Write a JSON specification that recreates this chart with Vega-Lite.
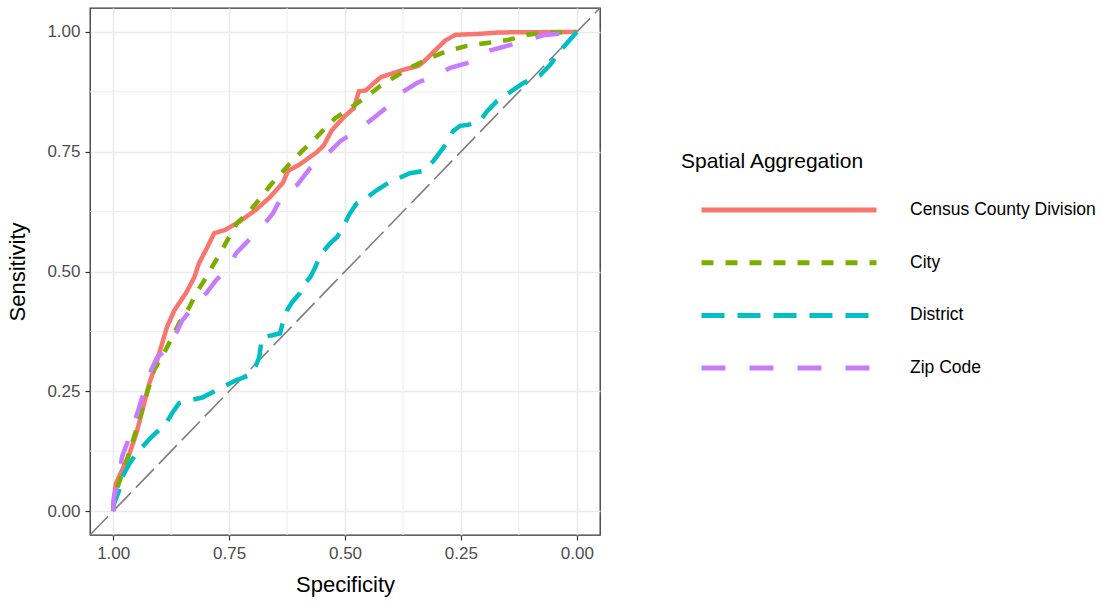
{
  "$schema": "https://vega.github.io/schema/vega-lite/v6.json",
  "width": 510,
  "height": 527,
  "autosize": {"type": "none"},
  "padding": {"left": 90, "top": 8, "right": 502, "bottom": 67},
  "background": "white",
  "config": {
    "font": "Liberation Sans",
    "view": {"stroke": "#333333", "strokeWidth": 1.3},
    "axis": {
      "domain": false,
      "gridColor": "#EBEBEB",
      "gridWidth": 1.6,
      "tickColor": "#333333",
      "tickWidth": 1.2,
      "tickSize": 5,
      "labelFont": "Liberation Sans",
      "labelFontSize": 17,
      "labelColor": "#4D4D4D",
      "labelPadding": 5,
      "titleFont": "Liberation Sans",
      "titleFontSize": 22,
      "titleFontWeight": "normal",
      "titleColor": "#000000"
    }
  },
  "datasets": {
    "roc": [
      {"series": "Census County Division", "spec": 1.0, "sens": 0.0},
      {"series": "Census County Division", "spec": 0.998, "sens": 0.03},
      {"series": "Census County Division", "spec": 0.994, "sens": 0.058},
      {"series": "Census County Division", "spec": 0.981, "sens": 0.085},
      {"series": "Census County Division", "spec": 0.965, "sens": 0.12},
      {"series": "Census County Division", "spec": 0.95, "sens": 0.162},
      {"series": "Census County Division", "spec": 0.937, "sens": 0.21},
      {"series": "Census County Division", "spec": 0.922, "sens": 0.267},
      {"series": "Census County Division", "spec": 0.907, "sens": 0.309},
      {"series": "Census County Division", "spec": 0.884, "sens": 0.384},
      {"series": "Census County Division", "spec": 0.868, "sens": 0.419},
      {"series": "Census County Division", "spec": 0.843, "sens": 0.455},
      {"series": "Census County Division", "spec": 0.825, "sens": 0.488},
      {"series": "Census County Division", "spec": 0.815, "sens": 0.517},
      {"series": "Census County Division", "spec": 0.8, "sens": 0.545},
      {"series": "Census County Division", "spec": 0.782, "sens": 0.58},
      {"series": "Census County Division", "spec": 0.758, "sens": 0.587},
      {"series": "Census County Division", "spec": 0.728, "sens": 0.604},
      {"series": "Census County Division", "spec": 0.692, "sens": 0.629},
      {"series": "Census County Division", "spec": 0.663, "sens": 0.654},
      {"series": "Census County Division", "spec": 0.634, "sens": 0.685},
      {"series": "Census County Division", "spec": 0.623, "sens": 0.71},
      {"series": "Census County Division", "spec": 0.597, "sens": 0.724},
      {"series": "Census County Division", "spec": 0.561, "sens": 0.749},
      {"series": "Census County Division", "spec": 0.546, "sens": 0.763},
      {"series": "Census County Division", "spec": 0.528, "sens": 0.795},
      {"series": "Census County Division", "spec": 0.502, "sens": 0.823},
      {"series": "Census County Division", "spec": 0.481, "sens": 0.841},
      {"series": "Census County Division", "spec": 0.47, "sens": 0.876},
      {"series": "Census County Division", "spec": 0.455, "sens": 0.878},
      {"series": "Census County Division", "spec": 0.437, "sens": 0.894},
      {"series": "Census County Division", "spec": 0.422, "sens": 0.906},
      {"series": "Census County Division", "spec": 0.393, "sens": 0.915},
      {"series": "Census County Division", "spec": 0.371, "sens": 0.922},
      {"series": "Census County Division", "spec": 0.342, "sens": 0.929},
      {"series": "Census County Division", "spec": 0.328, "sens": 0.94},
      {"series": "Census County Division", "spec": 0.306, "sens": 0.961},
      {"series": "Census County Division", "spec": 0.284, "sens": 0.982},
      {"series": "Census County Division", "spec": 0.262, "sens": 0.994},
      {"series": "Census County Division", "spec": 0.211, "sens": 0.996},
      {"series": "Census County Division", "spec": 0.167, "sens": 0.999},
      {"series": "Census County Division", "spec": 0.0, "sens": 1.0},

      {"series": "City", "spec": 1.0, "sens": 0.0},
      {"series": "City", "spec": 0.998, "sens": 0.029},
      {"series": "City", "spec": 0.983, "sens": 0.071},
      {"series": "City", "spec": 0.97, "sens": 0.106},
      {"series": "City", "spec": 0.959, "sens": 0.142},
      {"series": "City", "spec": 0.944, "sens": 0.19},
      {"series": "City", "spec": 0.927, "sens": 0.246},
      {"series": "City", "spec": 0.912, "sens": 0.294},
      {"series": "City", "spec": 0.89, "sens": 0.33},
      {"series": "City", "spec": 0.858, "sens": 0.392},
      {"series": "City", "spec": 0.836, "sens": 0.425},
      {"series": "City", "spec": 0.821, "sens": 0.455},
      {"series": "City", "spec": 0.799, "sens": 0.488},
      {"series": "City", "spec": 0.787, "sens": 0.509},
      {"series": "City", "spec": 0.765, "sens": 0.545},
      {"series": "City", "spec": 0.75, "sens": 0.572},
      {"series": "City", "spec": 0.733, "sens": 0.601},
      {"series": "City", "spec": 0.707, "sens": 0.624},
      {"series": "City", "spec": 0.681, "sens": 0.655},
      {"series": "City", "spec": 0.661, "sens": 0.68},
      {"series": "City", "spec": 0.633, "sens": 0.71},
      {"series": "City", "spec": 0.612, "sens": 0.733},
      {"series": "City", "spec": 0.59, "sens": 0.754},
      {"series": "City", "spec": 0.569, "sens": 0.772},
      {"series": "City", "spec": 0.549, "sens": 0.793},
      {"series": "City", "spec": 0.521, "sens": 0.82},
      {"series": "City", "spec": 0.489, "sens": 0.841},
      {"series": "City", "spec": 0.452, "sens": 0.866},
      {"series": "City", "spec": 0.424, "sens": 0.887},
      {"series": "City", "spec": 0.396, "sens": 0.904},
      {"series": "City", "spec": 0.36, "sens": 0.925},
      {"series": "City", "spec": 0.316, "sens": 0.946},
      {"series": "City", "spec": 0.28, "sens": 0.96},
      {"series": "City", "spec": 0.237, "sens": 0.971},
      {"series": "City", "spec": 0.194, "sens": 0.977},
      {"series": "City", "spec": 0.15, "sens": 0.983},
      {"series": "City", "spec": 0.107, "sens": 0.994},
      {"series": "City", "spec": 0.073, "sens": 0.998},
      {"series": "City", "spec": 0.0, "sens": 1.0},

      {"series": "District", "spec": 1.0, "sens": 0.0},
      {"series": "District", "spec": 0.998, "sens": 0.016},
      {"series": "District", "spec": 0.987, "sens": 0.043},
      {"series": "District", "spec": 0.981, "sens": 0.07},
      {"series": "District", "spec": 0.965, "sens": 0.099},
      {"series": "District", "spec": 0.95, "sens": 0.12},
      {"series": "District", "spec": 0.918, "sens": 0.154},
      {"series": "District", "spec": 0.886, "sens": 0.183},
      {"series": "District", "spec": 0.873, "sens": 0.204},
      {"series": "District", "spec": 0.858, "sens": 0.225},
      {"series": "District", "spec": 0.836, "sens": 0.231},
      {"series": "District", "spec": 0.808, "sens": 0.237},
      {"series": "District", "spec": 0.765, "sens": 0.258},
      {"series": "District", "spec": 0.735, "sens": 0.273},
      {"series": "District", "spec": 0.707, "sens": 0.283},
      {"series": "District", "spec": 0.696, "sens": 0.294},
      {"series": "District", "spec": 0.685, "sens": 0.321},
      {"series": "District", "spec": 0.679, "sens": 0.363},
      {"series": "District", "spec": 0.657, "sens": 0.367},
      {"series": "District", "spec": 0.64, "sens": 0.371},
      {"series": "District", "spec": 0.633, "sens": 0.398},
      {"series": "District", "spec": 0.625, "sens": 0.419},
      {"series": "District", "spec": 0.614, "sens": 0.436},
      {"series": "District", "spec": 0.597, "sens": 0.455},
      {"series": "District", "spec": 0.586, "sens": 0.476},
      {"series": "District", "spec": 0.575, "sens": 0.488},
      {"series": "District", "spec": 0.564, "sens": 0.509},
      {"series": "District", "spec": 0.554, "sens": 0.534},
      {"series": "District", "spec": 0.532, "sens": 0.559},
      {"series": "District", "spec": 0.517, "sens": 0.572},
      {"series": "District", "spec": 0.504, "sens": 0.593},
      {"series": "District", "spec": 0.489, "sens": 0.622},
      {"series": "District", "spec": 0.474, "sens": 0.643},
      {"series": "District", "spec": 0.452, "sens": 0.655},
      {"series": "District", "spec": 0.431, "sens": 0.67},
      {"series": "District", "spec": 0.403, "sens": 0.687},
      {"series": "District", "spec": 0.36, "sens": 0.705},
      {"series": "District", "spec": 0.331, "sens": 0.71},
      {"series": "District", "spec": 0.31, "sens": 0.73},
      {"series": "District", "spec": 0.288, "sens": 0.758},
      {"series": "District", "spec": 0.273, "sens": 0.779},
      {"series": "District", "spec": 0.267, "sens": 0.793},
      {"series": "District", "spec": 0.252, "sens": 0.804},
      {"series": "District", "spec": 0.234, "sens": 0.806},
      {"series": "District", "spec": 0.209, "sens": 0.814},
      {"series": "District", "spec": 0.193, "sens": 0.835},
      {"series": "District", "spec": 0.172, "sens": 0.856},
      {"series": "District", "spec": 0.137, "sens": 0.879},
      {"series": "District", "spec": 0.116, "sens": 0.893},
      {"series": "District", "spec": 0.079, "sens": 0.91},
      {"series": "District", "spec": 0.058, "sens": 0.931},
      {"series": "District", "spec": 0.03, "sens": 0.967},
      {"series": "District", "spec": 0.0, "sens": 1.0},

      {"series": "Zip Code", "spec": 1.0, "sens": 0.0},
      {"series": "Zip Code", "spec": 0.998, "sens": 0.029},
      {"series": "Zip Code", "spec": 0.987, "sens": 0.071},
      {"series": "Zip Code", "spec": 0.981, "sens": 0.113},
      {"series": "Zip Code", "spec": 0.965, "sens": 0.154},
      {"series": "Zip Code", "spec": 0.948, "sens": 0.204},
      {"series": "Zip Code", "spec": 0.933, "sens": 0.252},
      {"series": "Zip Code", "spec": 0.918, "sens": 0.294},
      {"series": "Zip Code", "spec": 0.905, "sens": 0.321},
      {"series": "Zip Code", "spec": 0.879, "sens": 0.342},
      {"series": "Zip Code", "spec": 0.851, "sens": 0.398},
      {"series": "Zip Code", "spec": 0.815, "sens": 0.44},
      {"series": "Zip Code", "spec": 0.799, "sens": 0.455},
      {"series": "Zip Code", "spec": 0.778, "sens": 0.482},
      {"series": "Zip Code", "spec": 0.75, "sens": 0.509},
      {"series": "Zip Code", "spec": 0.735, "sens": 0.538},
      {"series": "Zip Code", "spec": 0.707, "sens": 0.566},
      {"series": "Zip Code", "spec": 0.685, "sens": 0.586},
      {"series": "Zip Code", "spec": 0.655, "sens": 0.622},
      {"series": "Zip Code", "spec": 0.646, "sens": 0.639},
      {"series": "Zip Code", "spec": 0.625, "sens": 0.67},
      {"series": "Zip Code", "spec": 0.603, "sens": 0.681},
      {"series": "Zip Code", "spec": 0.575, "sens": 0.716},
      {"series": "Zip Code", "spec": 0.532, "sens": 0.751},
      {"series": "Zip Code", "spec": 0.51, "sens": 0.772},
      {"series": "Zip Code", "spec": 0.467, "sens": 0.799},
      {"series": "Zip Code", "spec": 0.439, "sens": 0.82},
      {"series": "Zip Code", "spec": 0.403, "sens": 0.848},
      {"series": "Zip Code", "spec": 0.385, "sens": 0.869},
      {"series": "Zip Code", "spec": 0.344, "sens": 0.894},
      {"series": "Zip Code", "spec": 0.316, "sens": 0.904},
      {"series": "Zip Code", "spec": 0.273, "sens": 0.925},
      {"series": "Zip Code", "spec": 0.237, "sens": 0.935},
      {"series": "Zip Code", "spec": 0.193, "sens": 0.96},
      {"series": "Zip Code", "spec": 0.165, "sens": 0.967},
      {"series": "Zip Code", "spec": 0.107, "sens": 0.983},
      {"series": "Zip Code", "spec": 0.073, "sens": 0.993},
      {"series": "Zip Code", "spec": 0.0, "sens": 1.0}
    ],
    "minorx": [{"spec": 0.125}, {"spec": 0.375}, {"spec": 0.625}, {"spec": 0.875}],
    "minory": [{"sens": 0.125}, {"sens": 0.375}, {"sens": 0.625}, {"sens": 0.875}],
    "diag": [{"spec": 1.05, "sens": -0.05}, {"spec": -0.05, "sens": 1.05}]
  },
  "layer": [
    {
      "data": {"name": "minorx"},
      "mark": {"type": "rule", "color": "#EDEDED", "strokeWidth": 1},
      "encoding": {
        "x": {"field": "spec", "type": "quantitative", "scale": {"domain": [-0.05, 1.05], "reverse": true, "nice": false, "zero": false},
          "axis": {"values": [0, 0.25, 0.5, 0.75, 1], "format": ".2f", "title": "Specificity", "titlePadding": 13}}
      }
    },
    {
      "data": {"name": "minory"},
      "mark": {"type": "rule", "color": "#EDEDED", "strokeWidth": 1},
      "encoding": {
        "y": {"field": "sens", "type": "quantitative", "scale": {"domain": [-0.05, 1.05], "nice": false, "zero": false},
          "axis": {"values": [0, 0.25, 0.5, 0.75, 1], "format": ".2f", "title": "Sensitivity", "titlePadding": 17}}
      }
    },
    {
      "data": {"name": "diag"},
      "mark": {"type": "line", "color": "#7F7F7F", "strokeWidth": 1.6, "strokeDash": [26, 7]},
      "encoding": {
        "x": {"field": "spec", "type": "quantitative"},
        "y": {"field": "sens", "type": "quantitative"}
      }
    },
    {
      "data": {"name": "roc"},
      "mark": {"type": "line", "strokeWidth": 4.5, "interpolate": "linear"},
      "encoding": {
        "x": {"field": "spec", "type": "quantitative"},
        "y": {"field": "sens", "type": "quantitative"},
        "order": {"field": "sens", "type": "quantitative"},
        "color": {
          "field": "series", "type": "nominal",
          "scale": {"domain": ["Census County Division", "City", "District", "Zip Code"], "range": ["#F8766D", "#7CAE00", "#00BFC4", "#C77CFF"]},
          "legend": {"orient": "none", "legendX": 591, "legendY": 143, "title": "Spatial Aggregation", "titleFontSize": 21, "titleFontWeight": "normal", "titleColor": "#000000", "titlePadding": 18, "titleLimit": 0, "labelLimit": 0, "labelFontSize": 17.5, "labelColor": "#000000", "symbolType": "stroke", "symbolSize": 30625, "symbolStrokeWidth": 5, "clipHeight": 40, "rowPadding": 12.7, "labelOffset": 31, "symbolOffset": 18, "padding": 0}
        },
        "strokeDash": {
          "field": "series", "type": "nominal",
          "scale": {"domain": ["Census County Division", "City", "District", "Zip Code"], "range": [[1, 0], [12, 12], [23, 13], [24, 24]]},
          "legend": {"orient": "none", "legendX": 591, "legendY": 143, "title": "Spatial Aggregation", "titleFontSize": 21, "titleFontWeight": "normal", "titleColor": "#000000", "titlePadding": 18, "titleLimit": 0, "labelLimit": 0, "labelFontSize": 17.5, "labelColor": "#000000", "symbolType": "stroke", "symbolSize": 30625, "symbolStrokeWidth": 5, "clipHeight": 40, "rowPadding": 12.7, "labelOffset": 31, "symbolOffset": 18, "padding": 0}
        }
      }
    }
  ]
}
